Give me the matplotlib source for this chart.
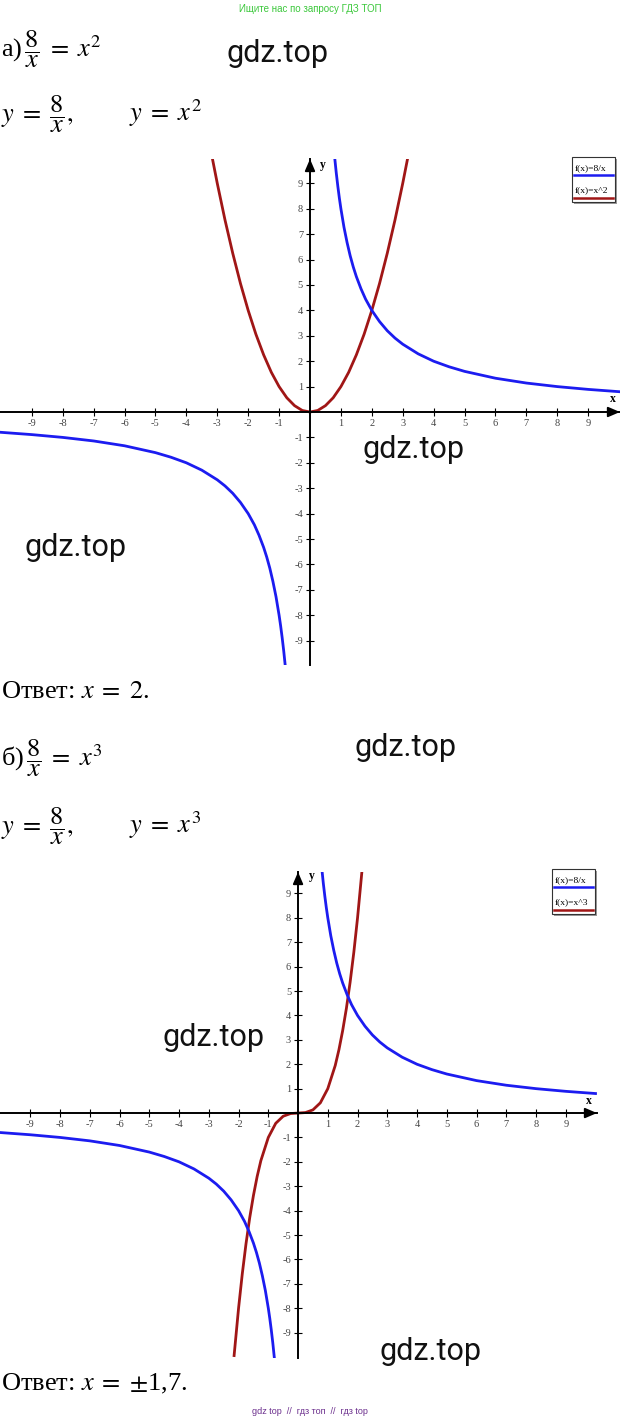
import matplotlib.pyplot as plt
from matplotlib.patches import Rectangle
from matplotlib.lines import Line2D

# данные графиков
tick_vals = [-9, -8, -7, -6, -5, -4, -3, -2, -1, 1, 2, 3, 4, 5, 6, 7, 8, 9]
tick_labels = ['-9', '-8', '-7', '-6', '-5', '-4', '-3', '-2', '-1',
               '1', '2', '3', '4', '5', '6', '7', '8', '9']

# y = 8/x, правая ветвь
hyp_pos_x = [0.8, 0.85, 0.9, 0.95, 1.0, 1.1, 1.2, 1.3, 1.4, 1.5, 1.65, 1.8, 2.0, 2.25, 2.5,
             2.75, 3.0, 3.5, 4.0, 4.5, 5.0, 6.0, 7.0, 8.0, 9.0, 10.0]
hyp_pos_y = [10.0, 9.41, 8.89, 8.42, 8.0, 7.27, 6.67, 6.15, 5.71, 5.33, 4.85, 4.44, 4.0, 3.56, 3.2,
             2.91, 2.67, 2.29, 2.0, 1.78, 1.6, 1.33, 1.14, 1.0, 0.89, 0.8]
# y = 8/x, левая ветвь
hyp_neg_x = [-10.0, -9.0, -8.0, -7.0, -6.0, -5.0, -4.5, -4.0, -3.5, -3.0, -2.75, -2.5, -2.25,
             -2.0, -1.8, -1.65, -1.5, -1.4, -1.3, -1.2, -1.1, -1.0, -0.95, -0.9, -0.85, -0.8]
hyp_neg_y = [-0.8, -0.89, -1.0, -1.14, -1.33, -1.6, -1.78, -2.0, -2.29, -2.67, -2.91, -3.2, -3.56,
             -4.0, -4.44, -4.85, -5.33, -5.71, -6.15, -6.67, -7.27, -8.0, -8.42, -8.89, -9.41, -10.0]
# y = x^2
par_x = [-3.16, -3.0, -2.75, -2.5, -2.25, -2.0, -1.75, -1.5, -1.25, -1.0, -0.75, -0.5, -0.25, 0.0,
         0.25, 0.5, 0.75, 1.0, 1.25, 1.5, 1.75, 2.0, 2.25, 2.5, 2.75, 3.0, 3.16]
par_y = [9.99, 9.0, 7.56, 6.25, 5.06, 4.0, 3.06, 2.25, 1.56, 1.0, 0.56, 0.25, 0.06, 0.0,
         0.06, 0.25, 0.56, 1.0, 1.56, 2.25, 3.06, 4.0, 5.06, 6.25, 7.56, 9.0, 9.99]
# y = x^3
cub_x = [-2.15, -2.0, -1.875, -1.75, -1.625, -1.5, -1.375, -1.25, -1.0, -0.75, -0.5, -0.25, 0.0,
         0.25, 0.5, 0.75, 1.0, 1.25, 1.375, 1.5, 1.625, 1.75, 1.875, 2.0, 2.15]
cub_y = [-9.94, -8.0, -6.59, -5.36, -4.29, -3.38, -2.6, -1.95, -1.0, -0.42, -0.13, -0.02, 0.0,
         0.02, 0.13, 0.42, 1.0, 1.95, 2.6, 3.38, 4.29, 5.36, 6.59, 8.0, 9.94]

legend_1 = ['f(x)=8/x', 'f(x)=x^2']
legend_2 = ['f(x)=8/x', 'f(x)=x^3']

BLUE = '#1c1cf0'
RED = '#a01616'

W, H = 620, 1424
plt.rcParams['mathtext.fontset'] = 'stix'
plt.rcParams['font.family'] = ['Liberation Serif', 'DejaVu Serif']

fig = plt.figure(figsize=(W / 100, H / 100), dpi=100)


def fx(px):
    return px / W


def fy(py):
    return 1 - py / H


# оси в стиле школьного графика
def make_chart(left, top, right, bottom, xlim, ylim, x_off, y_off):
    ax = fig.add_axes([fx(left), fy(bottom), (right - left) / W, (bottom - top) / H])
    ax.set_xlim(*xlim)
    ax.set_ylim(*ylim)
    ax.patch.set_alpha(0)
    for s in ['top', 'right']:
        ax.spines[s].set_visible(False)
    ax.spines['left'].set_position(('data', 0))
    ax.spines['bottom'].set_position(('data', 0))
    for s in ['left', 'bottom']:
        ax.spines[s].set_linewidth(1.4)
    ax.set_xticks(tick_vals)
    ax.set_xticklabels(tick_labels)
    ax.set_yticks(tick_vals)
    ax.set_yticklabels(tick_labels)
    ax.tick_params(direction='inout', length=6, width=0.8, labelsize=7.5,
                   labelcolor='#444444', pad=2)
    head = dict(arrowstyle='-|>,head_length=0.7,head_width=0.3', color='k', lw=1.4,
                shrinkA=0, shrinkB=0)
    ax.annotate('', xy=(1, 0), xycoords=ax.get_yaxis_transform(), xytext=(-12, 0),
                textcoords='offset pixels', arrowprops=head)
    ax.annotate('', xy=(0, 1), xycoords=ax.get_xaxis_transform(), xytext=(0, -12),
                textcoords='offset pixels', arrowprops=head)
    ax.annotate('x', xy=(1, 0), xycoords=ax.get_yaxis_transform(), xytext=x_off,
                textcoords='offset pixels', ha='center', va='center',
                fontsize=8.5, fontweight='bold')
    ax.annotate('y', xy=(0, 1), xycoords=ax.get_xaxis_transform(), xytext=y_off,
                textcoords='offset pixels', ha='center', va='center',
                fontsize=8.5, fontweight='bold')
    return ax


def draw_legend(left, top, right, bottom, labels, colors):
    fig.patches.append(Rectangle((fx(left + 2), fy(bottom + 2)), (right - left) / W,
                                 (bottom - top) / H, transform=fig.transFigure,
                                 facecolor='#9a9a9a', edgecolor='none'))
    fig.patches.append(Rectangle((fx(left), fy(bottom)), (right - left) / W,
                                 (bottom - top) / H, transform=fig.transFigure,
                                 facecolor='white', edgecolor='#333333', lw=0.8))
    step = (bottom - top) / 2
    for i, (lab, col) in enumerate(zip(labels, colors)):
        ty = top + 11 + i * step
        fig.text(fx(left + 3), fy(ty), lab, fontsize=6.8, va='center', ha='left')
        fig.lines.append(Line2D([fx(left + 2), fx(right - 2)], [fy(ty + 7), fy(ty + 7)],
                                transform=fig.transFigure, color=col, lw=1.8))


FS = 19

# шапка
fig.text(0.5, fy(9), 'Ищите нас по запросу ГДЗ ТОП', ha='center', va='center',
         fontsize=7, color='#3cc83c', family=['Liberation Sans', 'DejaVu Sans'])

# а)
fig.text(fx(1), fy(49), r'а)$\,\dfrac{8}{x}\;=\;x^2$', fontsize=FS, va='center')
fig.text(fx(1), fy(114), r'$y\;=\;\dfrac{8}{x},$', fontsize=FS, va='center')
fig.text(fx(129), fy(113), r'$y\;=\;x^2$', fontsize=FS, va='center')

ax1 = make_chart(0, 159, 620, 665, (-10.03, 10.03), (-9.96, 9.96), (-7, 13), (13, -6))
ax1.plot(par_x, par_y, color=RED, lw=2)
ax1.plot(hyp_pos_x, hyp_pos_y, color=BLUE, lw=2)
ax1.plot(hyp_neg_x, hyp_neg_y, color=BLUE, lw=2)
draw_legend(572, 157, 615, 202, legend_1, [BLUE, RED])

fig.text(fx(1), fy(698), r'Ответ: $x\;=\;2$.', fontsize=FS, va='baseline')

# б)
fig.text(fx(1), fy(758), r'б)$\,\dfrac{8}{x}\;=\;x^3$', fontsize=FS, va='center')
fig.text(fx(1), fy(826), r'$y\;=\;\dfrac{8}{x},$', fontsize=FS, va='center')
fig.text(fx(129), fy(825), r'$y\;=\;x^3$', fontsize=FS, va='center')

ax2 = make_chart(0, 872, 597, 1358, (-10.02, 10.05), (-10.04, 9.88), (-8, 12), (14, -4))
ax2.plot(cub_x, cub_y, color=RED, lw=2)
ax2.plot(hyp_pos_x, hyp_pos_y, color=BLUE, lw=2)
ax2.plot(hyp_neg_x, hyp_neg_y, color=BLUE, lw=2)
draw_legend(552, 869, 595, 914, legend_2, [BLUE, RED])

fig.text(fx(1), fy(1390), r'Ответ: $x\;=\;{\pm}$1,7.', fontsize=FS, va='baseline')

# водяные знаки
for wx, wy in [(278, 53), (413, 449), (75, 548), (406, 748), (214, 1037), (430, 1352)]:
    fig.text(fx(wx), fy(wy), 'gdz.top', ha='center', va='center', fontsize=22,
             color='#111111', family='Roboto')

fig.text(0.5, fy(1412), 'gdz top  //  гдз топ  //  гдз top', ha='center', va='center',
         fontsize=6.5, color='#6a2d8c', family=['Liberation Sans', 'DejaVu Sans'])

fig.savefig('out.png', dpi=100)
